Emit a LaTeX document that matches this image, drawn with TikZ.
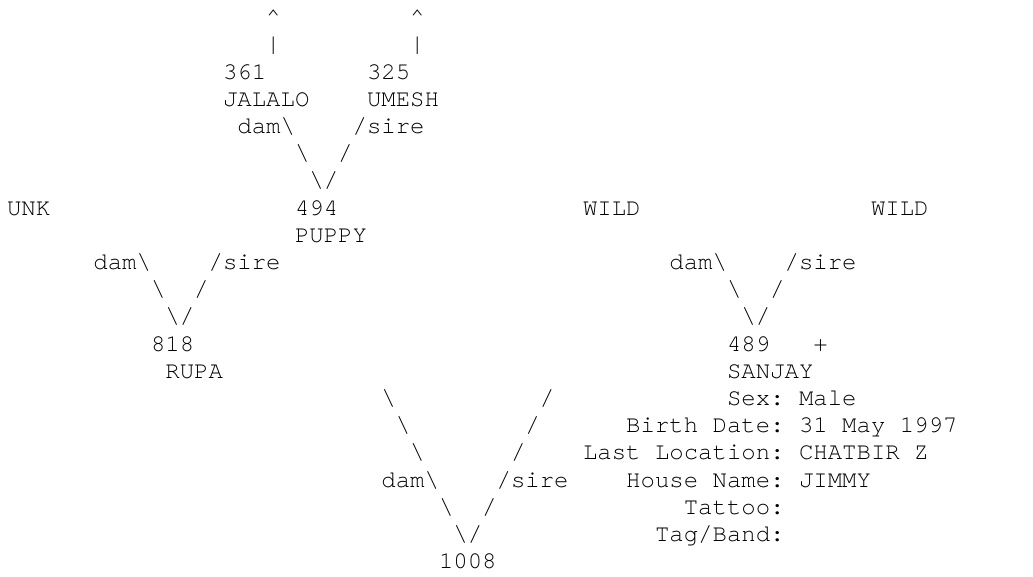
\documentclass[tikz,border=0pt]{standalone}
\usepackage{fontspec}
\setmonofont{TeX Gyre Cursor}
\usepackage{tikz}
\usetikzlibrary{positioning}

\newcommand{\bsl}{\textbackslash}

\begin{document}
\begin{tikzpicture}[
  x=14.4pt, y=-27.2pt,
  font=\ttfamily\fontsize{24}{27.2}\selectfont,
  txt/.style={anchor=base west, inner sep=0pt, outer sep=0pt, text=black},
  lnk/.style={txt}, info/.style={txt}]
  \useasboundingbox (0pt,0pt) rectangle (1033pt,-576pt);
  \begin{scope}[shift={(7pt,2.6pt)}]
  % parents of 494
  \node[lnk] (upL) at (18,1) {\textasciicircum};
  \node[lnk] (upR) at (28,1) {\textasciicircum};
  \node[lnk] (barL) at (18,2) {|};
  \node[lnk] (barR) at (28,2) {|};
  \node[txt] (n361) at (15,3) {361};
  \node[txt] (n325) at (25,3) {325};
  \node[txt] (jalalo) at (15,4) {JALALO};
  \node[txt] (umesh) at (25,4) {UMESH};
  \node[lnk] (damA) at (16,5) {dam\bsl};
  \node[lnk] (sireA) at (24,5) {/sire};
  \node[lnk] (dA) at (20,6) {\bsl};
  \node[lnk] (sA) at (23,6) {/};
  \node[lnk] (vA) at (21,7) {\bsl/};
  % grandparents row
  \node[txt] (unk) at (0,8) {UNK};
  \node[txt] (n494) at (20,8) {494};
  \node[txt] (wildA) at (40,8) {WILD};
  \node[txt] (wildB) at (60,8) {WILD};
  \node[txt] (puppy) at (20,9) {PUPPY};
  \node[lnk] (damB) at (6,10) {dam\bsl};
  \node[lnk] (sireB) at (14,10) {/sire};
  \node[lnk] (damC) at (46,10) {dam\bsl};
  \node[lnk] (sireC) at (54,10) {/sire};
  \node[lnk] (dB) at (10,11) {\bsl};
  \node[lnk] (sB) at (13,11) {/};
  \node[lnk] (dC) at (50,11) {\bsl};
  \node[lnk] (sC) at (53,11) {/};
  \node[lnk] (vB) at (11,12) {\bsl/};
  \node[lnk] (vC) at (51,12) {\bsl/};
  % parents
  \node[txt] (n818) at (10,13) {818};
  \node[txt] (n489) at (50,13) {489};
  \node[txt] (plus) at (56,13) {+};
  \node[txt] (rupa) at (11,14) {RUPA};
  \node[txt] (sanjay) at (50,14) {SANJAY};
  % info of 489
  \node[info] (sex) at (50,15) {Sex: Male};
  \node[info] (birth) at (43,16) {Birth Date: 31 May 1997};
  \node[info] (loc) at (40,17) {Last Location: CHATBIR Z};
  \node[info] (house) at (43,18) {House Name: JIMMY};
  \node[info] (tattoo) at (47,19) {Tattoo:};
  \node[info] (tag) at (45,20) {Tag/Band:};
  % bottom V
  \node[lnk] (dD1) at (26,15) {\bsl};
  \node[lnk] (sD1) at (37,15) {/};
  \node[lnk] (dD2) at (27,16) {\bsl};
  \node[lnk] (sD2) at (36,16) {/};
  \node[lnk] (dD3) at (28,17) {\bsl};
  \node[lnk] (sD3) at (35,17) {/};
  \node[lnk] (damD) at (26,18) {dam\bsl};
  \node[lnk] (sireD) at (34,18) {/sire};
  \node[lnk] (dD4) at (30,19) {\bsl};
  \node[lnk] (sD4) at (33,19) {/};
  \node[lnk] (vD) at (31,20) {\bsl/};
  \node[txt] (n1008) at (30,21) {1008};
  \end{scope}
\end{tikzpicture}
\end{document}
